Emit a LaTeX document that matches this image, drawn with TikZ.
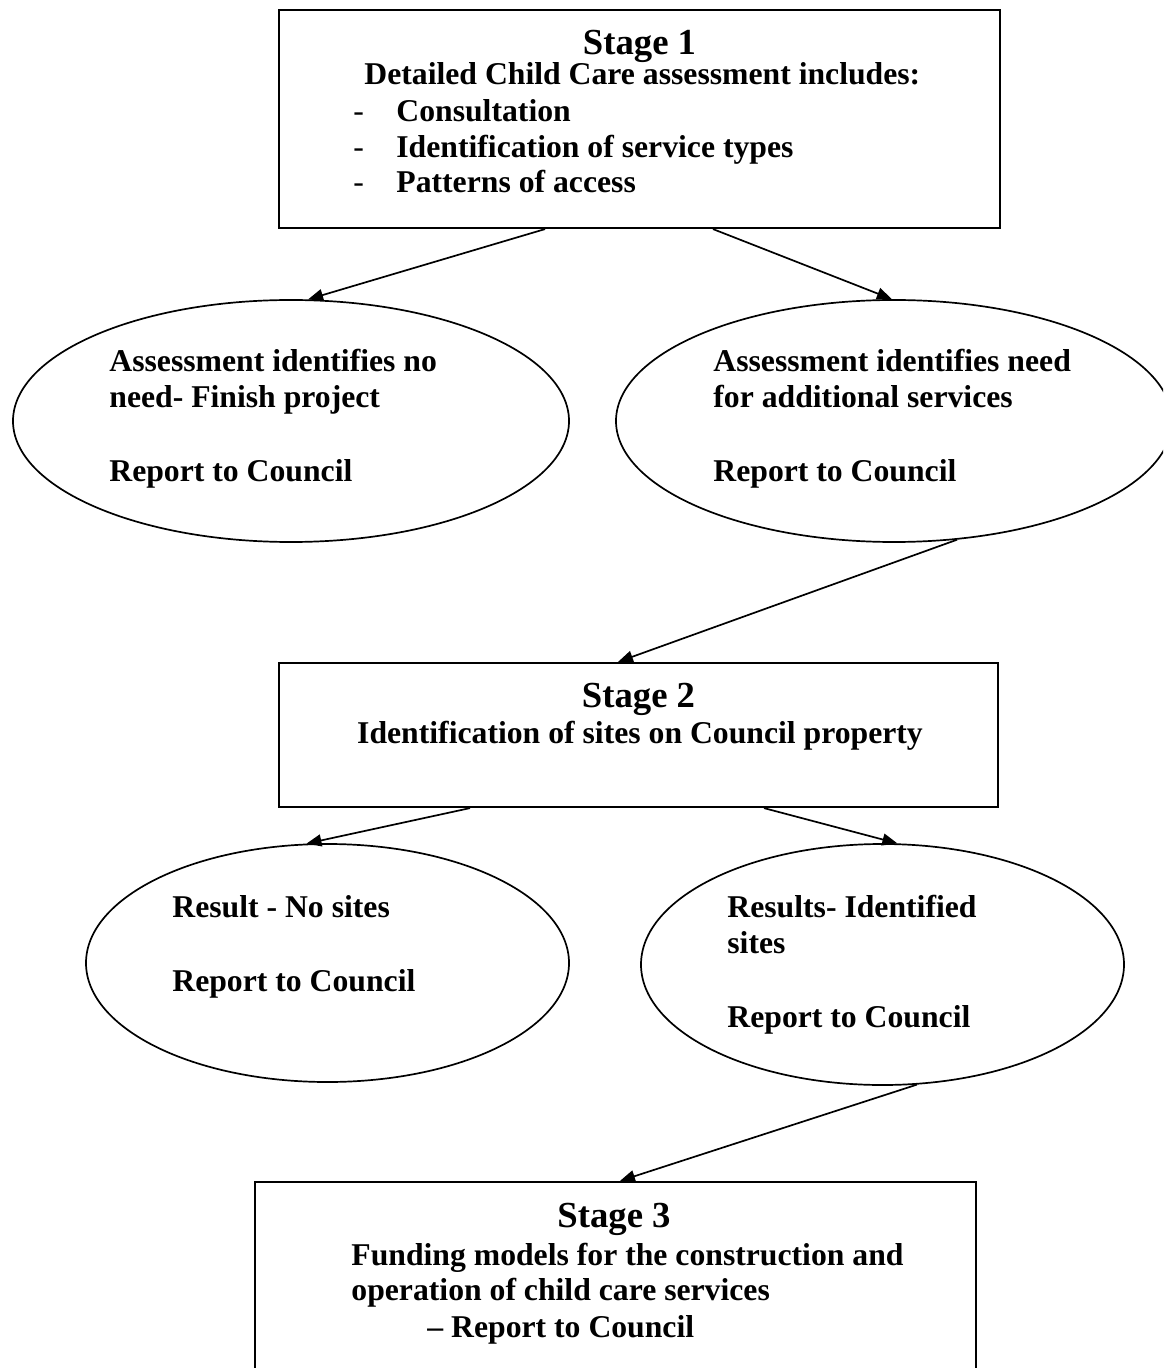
\documentclass[tikz,border=0pt]{standalone}
\usepackage{fontspec}
\setmainfont{Liberation Serif}
\usetikzlibrary{arrows.meta,shapes.geometric}
\begin{document}
\begin{tikzpicture}[x=0.5pt,y=-0.5pt,
  box/.style={draw,line width=1.1pt,rectangle,inner sep=0pt},
  oval/.style={draw,line width=0.85pt,ellipse,inner sep=0pt},
  arr/.style={line width=0.85pt,-{Triangle[length=7.5pt,width=6pt]}},
  body/.style={font=\fontsize{15.85}{18.25}\selectfont\bfseries,inner sep=0pt,anchor=base west},
  dashmark/.style={font=\fontsize{15.85}{18.25}\selectfont,inner sep=0pt,anchor=base west},
  head/.style={font=\fontsize{18.35}{21}\selectfont\bfseries,inner sep=0pt,anchor=base}]
\clip (0,0) rectangle (1163,1368);
% shapes
\node[box,minimum width=360.5pt,minimum height=109pt] (s1) at (639.5,119) {};
\node[oval,minimum width=278pt,minimum height=121pt] (e1) at (291,421) {};
\node[oval,minimum width=278pt,minimum height=121pt] (e2) at (894,421) {};
\node[box,minimum width=359.5pt,minimum height=72pt] (s2) at (638.5,735) {};
\node[oval,minimum width=241.5pt,minimum height=119pt] (e3) at (327.5,963) {};
\node[oval,minimum width=241.5pt,minimum height=120.5pt] (e4) at (882.5,964.5) {};
\node[box,minimum width=360.5pt,minimum height=95pt] (s3) at (615.5,1277) {};
% stage 1 text
\node[head] (h1) at (639.5,55) {Stage 1};
\node[body] (t1a) at (364,85) {Detailed Child Care assessment includes:};
\node[dashmark] (d1) at (353,122) {-};
\node[dashmark] (d2) at (353,158) {-};
\node[dashmark] (d3) at (353,193) {-};
\node[body] (t1b) at (396,122) {Consultation};
\node[body] (t1c) at (396,158) {Identification of service types};
\node[body] (t1d) at (396,193) {Patterns of access};
% ellipse 1 / 2 text
\node[body] (te1a) at (109,372) {Assessment identifies no};
\node[body] (te1b) at (109,408) {need- Finish project};
\node[body] (te1c) at (109,482) {Report to Council};
\node[body] (te2a) at (713,372) {Assessment identifies need};
\node[body] (te2b) at (713,408) {for additional services};
\node[body] (te2c) at (713,482) {Report to Council};
% stage 2 text
\node[head] (h2) at (638.5,707) {Stage 2};
\node[body,anchor=base] (t2a) at (640,743) {Identification of sites on Council property};
% ellipse 3 / 4 text
\node[body] (te3a) at (172,917) {Result - No sites};
\node[body] (te3b) at (172,991) {Report to Council};
\node[body] (te4a) at (727,917) {Results- Identified};
\node[body] (te4b) at (727,953) {sites};
\node[body] (te4c) at (727,1027) {Report to Council};
% stage 3 text
\node[head] (h3) at (614,1227) {Stage 3};
\node[body] (t3a) at (351,1265) {Funding models for the construction and};
\node[body] (t3b) at (351,1300) {operation of child care services};
\node[body] (t3c) at (427,1337) {– Report to Council};
% connectors
\draw[arr] ([xshift=-47.25pt]s1.south) -- (e1.82);
\draw[arr] ([xshift=36.75pt]s1.south) -- (e2.91);
\draw[arr] (e2.-62.7) -- ([xshift=-10.25pt]s2.north);
\draw[arr] ([xshift=-84.25pt]s2.south) -- (e3.100);
\draw[arr] ([xshift=62.75pt]s2.south) -- (e4.83);
\draw[arr] (e4.-74.8) -- ([xshift=2.25pt]s3.north);
\end{tikzpicture}
\end{document}
